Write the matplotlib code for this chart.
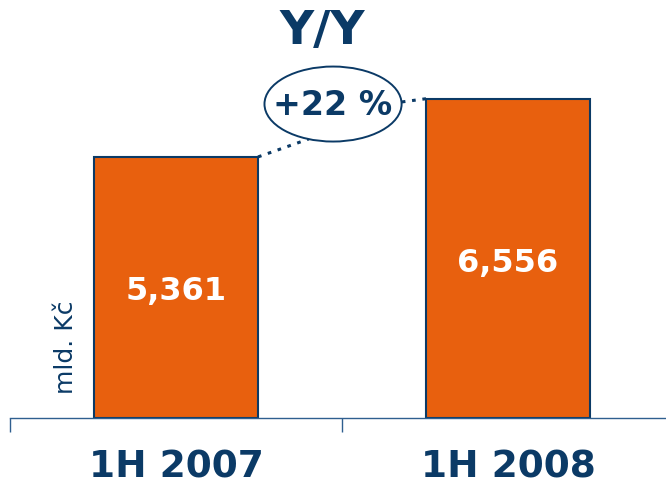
import matplotlib
matplotlib.use("Agg")
import matplotlib.pyplot as plt
from matplotlib.patches import Ellipse

categories = ["1H 2007", "1H 2008"]
values = [5361, 6556]
value_labels = ["5,361", "6,556"]
change_label = "+22 %"
title = "Y/Y"
unit_label = "mld. Kč"

NAVY = "#0b3a66"
ORANGE = "#e8600e"
BAR_W = 0.494

fig = plt.figure(figsize=(6.66, 4.89), dpi=100)
ax = fig.add_axes([10 / 666, 70 / 489, 664 / 666, 419 / 489])

xs = list(range(len(categories)))
ax.bar(xs, values, width=BAR_W, color=ORANGE, edgecolor=NAVY, linewidth=1.5, zorder=2)

for x, v, lab in zip(xs, values, value_labels):
    ax.text(x, v * 0.488, lab, ha="center", va="center", color="white",
            fontsize=23, fontweight="bold", zorder=3)

ax.set_xlim(-0.5, 1.5)
ax.set_ylim(0, 8604)

for s in ["top", "left", "right"]:
    ax.spines[s].set_visible(False)
ax.spines["bottom"].set_color("#2f5f8f")
ax.spines["bottom"].set_linewidth(1.0)
ax.set_yticks([])
ax.set_xticks(xs)
ax.set_xticklabels(categories, fontsize=27, fontweight="bold", color=NAVY)
ax.tick_params(axis="x", which="major", length=0, pad=22)
ax.set_xticks([-0.5, 0.5], minor=True)
ax.tick_params(axis="x", which="minor", length=10, width=1.0, color="#2f5f8f", direction="out")

# growth bubble between the bars
bx, by = 0.473, 6447
ax.add_patch(Ellipse((bx, by), 0.413, 1540, fc="white", ec=NAVY, lw=1.4, zorder=4))
ax.text(bx, by, change_label, ha="center", va="center", fontsize=24,
        fontweight="bold", color=NAVY, zorder=5)
dots = (0, (1.2, 2.2))
ax.plot([BAR_W / 2, 0.40], [values[0], 5730], ls=dots, color=NAVY, lw=2.2, zorder=1)
ax.plot([0.68, 1 - BAR_W / 2], [6490, values[1]], ls=dots, color=NAVY, lw=2.2, zorder=1)

ax.text(56 / 664, 0.172, unit_label, rotation=90, ha="center", va="center",
        fontsize=18, color=NAVY, transform=ax.transAxes)

fig.text(322 / 666, 1 - 31 / 489, title, ha="center", va="center",
         fontsize=34, fontweight="bold", color=NAVY)

fig.savefig("out.png", dpi=100)
